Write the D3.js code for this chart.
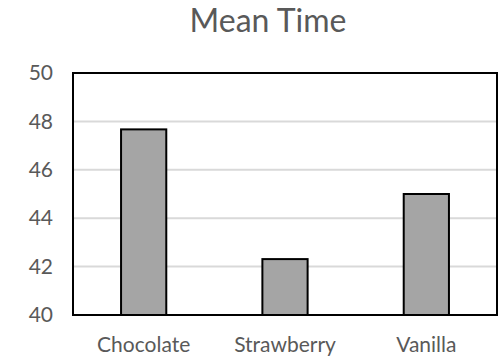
<!DOCTYPE html>
<html>
<head>
<meta charset="utf-8">
<script src="https://cdn.jsdelivr.net/npm/d3@7"></script>
<style>
  html, body { margin: 0; padding: 0; background: #fff; }
  svg text { font-family: Lato, "Open Sans", sans-serif; fill: #595959; }
</style>
</head>
<body>
<svg id="chart" width="500" height="361"></svg>
<script>
// Mean time per flavour
const categories = ["Chocolate", "Strawberry", "Vanilla"];
const meanTimes = [47.67, 42.31, 45.0];
const yTicks = [40, 42, 44, 46, 48, 50];
const chartTitle = "Mean Time";

const svg = d3.select("#chart");
const margin = { top: 73, right: 3, bottom: 46, left: 73 };
const width = 500 - margin.left - margin.right;
const height = 361 - margin.top - margin.bottom;

const x = d3.scaleBand().domain(categories).range([0, width]).paddingInner(0.68).paddingOuter(0.34);
const y = d3.scaleLinear().domain([40, 50]).range([height, 0]);

const g = svg.append("g").attr("transform", `translate(${margin.left},${margin.top})`);

// horizontal gridlines
g.append("g").selectAll("line").data(yTicks).join("line")
  .attr("x1", 0).attr("x2", width)
  .attr("y1", d => y(d)).attr("y2", d => y(d))
  .attr("stroke", "#d9d9d9").attr("stroke-width", 2);

// bars
g.append("g").selectAll("rect").data(categories).join("rect")
  .attr("x", d => x(d))
  .attr("y", (d, i) => y(meanTimes[i]))
  .attr("width", x.bandwidth())
  .attr("height", (d, i) => y(40) - y(meanTimes[i]))
  .attr("fill", "#a5a5a5").attr("stroke", "#000").attr("stroke-width", 2);

// plot frame
g.append("rect").attr("x", 0).attr("y", 0).attr("width", width).attr("height", height)
  .attr("fill", "none").attr("stroke", "#000").attr("stroke-width", 2);

// y axis labels
const yAxis = d3.axisLeft(y).tickValues(yTicks).tickSize(0).tickPadding(20);
g.append("g").call(yAxis)
  .call(s => s.select(".domain").remove())
  .selectAll("text").attr("font-size", 21).attr("fill", "#595959")
  .style("font-family", "Lato, sans-serif");

// x axis labels
const xAxis = d3.axisBottom(x).tickSize(0).tickPadding(22);
g.append("g").attr("transform", `translate(0,${height})`).call(xAxis)
  .call(s => s.select(".domain").remove())
  .selectAll("text").attr("font-size", 21).attr("fill", "#595959")
  .style("font-family", "Lato, sans-serif");

// title
svg.append("text").attr("x", 268).attr("y", 32).attr("text-anchor", "middle")
  .attr("font-size", 32).text(chartTitle);
</script>
</body>
</html>
